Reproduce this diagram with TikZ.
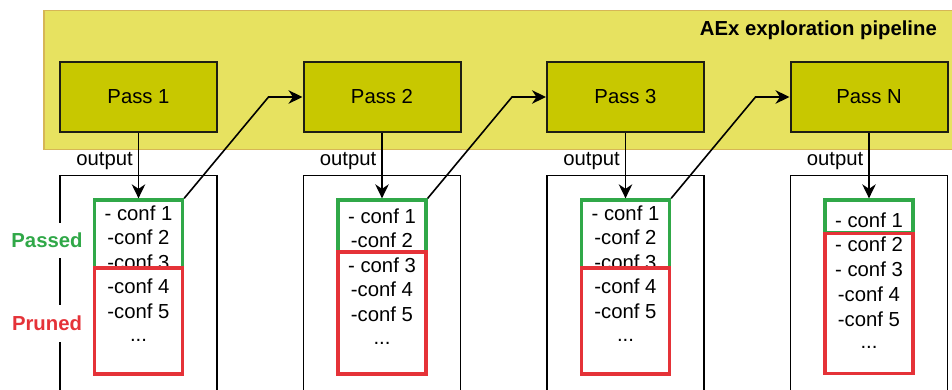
\documentclass[tikz,border=0pt]{standalone}
\usepackage{fontspec}
\setmainfont{Liberation Sans}
\usetikzlibrary{arrows.meta,calc}
\definecolor{bgyellow}{RGB}{231,226,96}
\definecolor{bgborder}{RGB}{214,182,86}
\definecolor{passfill}{RGB}{200,200,0}
\definecolor{passborder}{RGB}{30,30,20}
\definecolor{okgreen}{RGB}{48,168,72}
\definecolor{cutred}{RGB}{229,50,56}
\begin{document}
\begin{tikzpicture}[x=1pt,y=-1pt,
  font=\fontsize{20.3}{24}\selectfont,
  bgbox/.style={draw=bgborder, fill=bgyellow, line width=1.5pt},
  passbox/.style={draw=passborder, fill=passfill, line width=2pt, minimum width=157pt, minimum height=70pt, inner sep=0pt},
  outbox/.style={draw=black, line width=1.5pt, minimum width=157pt, minimum height=240pt, anchor=north, inner sep=0pt},
  okbox/.style={draw=okgreen, line width=3.3pt, minimum width=88pt, inner sep=0pt},
  cutbox/.style={draw=cutred, line width=3.3pt, minimum width=88pt, inner sep=0pt},
  conf/.style={anchor=base, inner sep=0pt},
  outlabel/.style={anchor=base east, inner sep=0pt},
  sidelabel/.style={fill=white, font=\fontsize{20.3}{24}\selectfont\bfseries, inner sep=0pt, minimum width=78pt},
  arr/.style={line width=1.6pt, -{Stealth[length=14pt,width=13.5pt,inset=4.5pt]}},
]
\useasboundingbox (0,0) rectangle (952,390);
\clip (0,0) rectangle (952,390);

% pipeline background
\node[bgbox, anchor=north west, minimum width=920pt, minimum height=139pt] (bg) at (43,10) {};
\node[anchor=base east, inner sep=0pt, font=\fontsize{20.3}{24}\selectfont\bfseries] (title) at (937,36) {AEx exploration pipeline};

% passes
\node[passbox] (p1) at (138.5,97) {Pass 1};
\node[passbox] (p2) at (382,97) {Pass 2};
\node[passbox] (p3) at (625.5,97) {Pass 3};
\node[passbox] (p4) at (869,97) {Pass N};

% output containers
\node[outbox] (o1) at (138.5,175) {};
\node[outbox] (o2) at (382,175) {};
\node[outbox] (o3) at (625.5,175) {};
\node[outbox] (o4) at (869,175) {};

% output labels
\node[outlabel] (l1) at (133,166) {output};
\node[outlabel] (l2) at (376.5,166) {output};
\node[outlabel] (l3) at (620,166) {output};
\node[outlabel] (l4) at (863.5,166) {output};

% config lists
\foreach \t [count=\i] in {- conf 1, -conf 2, -conf 3, -conf 4, -conf 5}
  \node[conf] (ca\i) at (138.5,{220+24.6*(\i-1)}) {\t};
\node[conf] (ca6) at (138.5,341) {...};
\foreach \t [count=\i] in {- conf 1, -conf 2, - conf 3, -conf 4, -conf 5}
  \node[conf] (cb\i) at (382,{223+24.6*(\i-1)}) {\t};
\node[conf] (cb6) at (382,344) {...};
\foreach \t [count=\i] in {- conf 1, -conf 2, -conf 3, -conf 4, -conf 5}
  \node[conf] (cc\i) at (625.5,{220+24.6*(\i-1)}) {\t};
\node[conf] (cc6) at (625.5,341) {...};
\foreach \t [count=\i] in {- conf 1, - conf 2, - conf 3, -conf 4, -conf 5}
  \node[conf] (cd\i) at (869,{227+24.8*(\i-1)}) {\t};
\node[conf] (cd6) at (869,348) {...};

% passed / pruned boxes
\node[okbox, minimum height=68pt] (g1) at (138.5,234) {};
\node[okbox, minimum height=52pt] (g2) at (382,226) {};
\node[okbox, minimum height=68pt] (g3) at (625.5,234) {};
\node[okbox, minimum height=33pt] (g4) at (869,216.5) {};
\node[cutbox, minimum height=106pt] (r1) at (138.5,321) {};
\node[cutbox, minimum height=122pt] (r2) at (382,313) {};
\node[cutbox, minimum height=106pt] (r3) at (625.5,321) {};
\node[cutbox, minimum height=140pt] (r4) at (869,303.5) {};

% side labels
\node[sidelabel, text=okgreen, minimum height=35pt] (passed) at (47,240.5) {Passed};
\node[sidelabel, text=cutred, minimum height=37pt] (pruned) at (47,323.5) {Pruned};

% connectors
\draw[arr] (p1) -- (g1);
\draw[arr] (p2) -- (g2);
\draw[arr] (p3) -- (g3);
\draw[arr] (p4) -- (g4);

\coordinate (k1) at (268.5,97);
\coordinate (k2) at (512,97);
\coordinate (k3) at (755.5,97);
\draw[arr] (g1.north east) -- (k1) -- (p2.west);
\draw[arr] (g2.north east) -- (k2) -- (p3.west);
\draw[arr] (g3.north east) -- (k3) -- (p4.west);
\end{tikzpicture}
\end{document}
